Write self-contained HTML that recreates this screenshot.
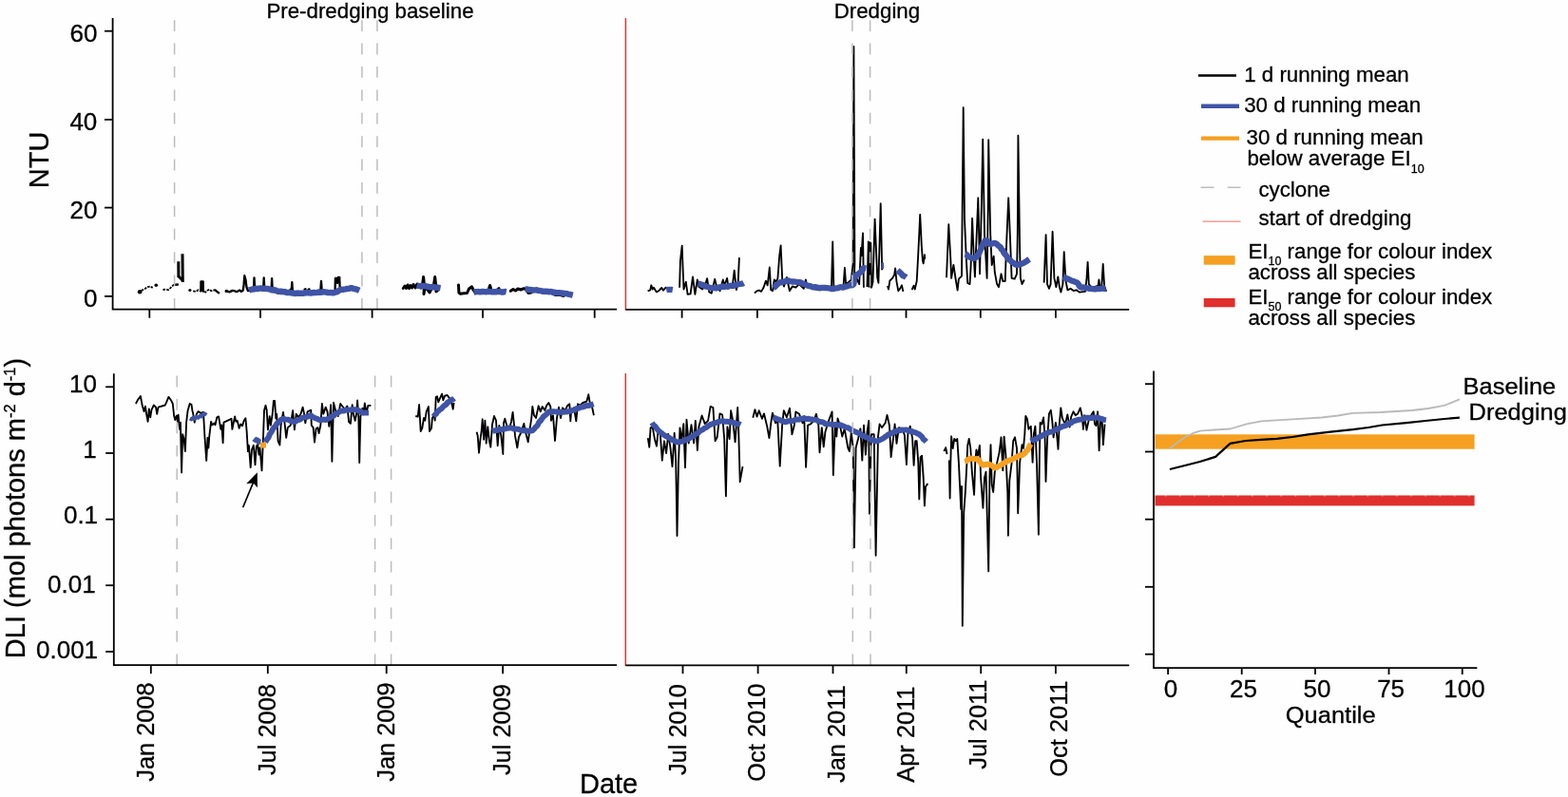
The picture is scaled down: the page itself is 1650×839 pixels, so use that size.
<!DOCTYPE html>
<html lang="en">
<head>
<meta charset="utf-8">
<title>Turbidity and light time series</title>
<style>
html,body{margin:0;padding:0;background:#fefefe;}
body{width:1650px;height:839px;overflow:hidden;}
svg{display:block;}
svg text{font-family:"Liberation Sans",Arial,Helvetica,sans-serif;fill:#000;stroke:#000;stroke-width:0.3px;}
</style>
</head>
<body>
<svg width="1650" height="839" viewBox="0 0 1650 839">
<rect x="0" y="0" width="1650" height="839" fill="#fefefe"/>
<polyline points="183.6,299.8 187.0,299.5" fill="none" stroke="#000" stroke-width="2.3" stroke-linejoin="round" stroke-linecap="round"/>
<polyline points="211.3,306.5 211.5,296.3 213.7,296.3 213.9,306.8" fill="none" stroke="#000" stroke-width="2.3" stroke-linejoin="round" stroke-linecap="round"/>
<polyline points="226.5,305.4 228.2,306.8 230.2,308.4" fill="none" stroke="#000" stroke-width="2.3" stroke-linejoin="round" stroke-linecap="round"/>
<polyline points="238.4,306.4 241.5,307.4 244.5,305.9 247.4,306.4 248.8,307.2 250.8,306.2 252.2,305.5 253.7,306.9 255.8,305.7 256.6,299.4 257.3,290.2 258.5,294.5 259.5,302.3 260.9,306.2 266.9,305.5 267.5,292.3 268.2,304.5 277.1,304.5 277.7,292.5 278.4,305.0 285.5,306.0 286.1,293.1 286.8,306.5 292.0,308.5 296.0,309.0 299.0,307.5" fill="none" stroke="#000" stroke-width="2.3" stroke-linejoin="round" stroke-linecap="round"/>
<polyline points="305.5,305.0 306.8,304.0 307.3,297.2 307.9,306.0" fill="none" stroke="#000" stroke-width="2.3" stroke-linejoin="round" stroke-linecap="round"/>
<polyline points="320.5,304.7 321.5,304.2" fill="none" stroke="#000" stroke-width="2.3" stroke-linejoin="round" stroke-linecap="round"/>
<polyline points="324.5,304.9 325.5,304.4" fill="none" stroke="#000" stroke-width="2.3" stroke-linejoin="round" stroke-linecap="round"/>
<polyline points="337.3,306.0 338.0,296.0 338.7,306.0" fill="none" stroke="#000" stroke-width="2.3" stroke-linejoin="round" stroke-linecap="round"/>
<polyline points="352.6,305.0 352.9,293.0 354.5,292.8 355.0,298.0 356.0,292.0 357.2,291.8 357.6,302.0" fill="none" stroke="#000" stroke-width="2.3" stroke-linejoin="round" stroke-linecap="round"/>
<polyline points="424.3,303.5 426.0,301.0 427.5,303.5 429.0,300.0 430.5,303.5 432.0,300.5 433.5,303.0 435.0,299.5 437.0,303.0 439.0,299.0 441.0,301.5 443.0,303.0 444.8,298.0 445.6,291.6 446.4,300.0 446.0,309.5 447.0,303.0 450.0,305.0 452.0,308.0 454.0,304.0 456.5,300.0 457.7,291.6 458.6,300.0 459.0,307.0 461.0,305.0" fill="none" stroke="#000" stroke-width="3.0" stroke-linejoin="round" stroke-linecap="round"/>
<polyline points="482.5,299.9 482.9,308.0 484.5,309.3 488.0,308.8 491.5,308.5 493.5,304.0 496.5,301.8 498.0,305.0 500.0,308.0" fill="none" stroke="#000" stroke-width="3.0" stroke-linejoin="round" stroke-linecap="round"/>
<polyline points="514.5,304.0 515.6,300.5 516.6,304.0" fill="none" stroke="#000" stroke-width="3.0" stroke-linejoin="round" stroke-linecap="round"/>
<polyline points="524.0,304.5 525.0,303.7" fill="none" stroke="#000" stroke-width="3.0" stroke-linejoin="round" stroke-linecap="round"/>
<polyline points="537.3,306.3 540.0,304.5 542.5,306.0 545.0,304.0 548.0,305.0 551.3,303.7 554.0,305.0 556.0,308.5 559.0,308.0" fill="none" stroke="#000" stroke-width="3.0" stroke-linejoin="round" stroke-linecap="round"/>
<polyline points="582.0,309.5 585.0,310.5 589.0,310.3 593.0,311.5" fill="none" stroke="#000" stroke-width="3.0" stroke-linejoin="round" stroke-linecap="round"/>
<polyline points="187.8,275.3 187.9,292.0" fill="none" stroke="#000" stroke-width="3.0" stroke-linejoin="round" stroke-linecap="butt" />
<polyline points="192.0,267.3 192.3,297.0" fill="none" stroke="#000" stroke-width="3.0" stroke-linejoin="round" stroke-linecap="butt" />
<polyline points="188.0,291.0 192.0,295.0" fill="none" stroke="#000" stroke-width="3.0" stroke-linejoin="round" stroke-linecap="butt" />
<polyline points="212.6,296.5 212.6,306.5" fill="none" stroke="#000" stroke-width="3.0" stroke-linejoin="round" stroke-linecap="butt" />
<polyline points="148.8,305.9 152.2,304.3 155.0,302.2 157.9,301.5 160.7,302.9" fill="none" stroke="#000" stroke-width="1.8" stroke-linejoin="round" stroke-linecap="butt" stroke-dasharray="2.6 1.1"/>
<polyline points="171.5,305.0 174.3,304.7 177.2,305.0 179.3,303.2 182.2,300.4 184.5,299.4" fill="none" stroke="#000" stroke-width="1.8" stroke-linejoin="round" stroke-linecap="butt" stroke-dasharray="2.6 1.1"/>
<polyline points="203.2,306.4 206.2,306.9 208.6,305.2 210.0,306.2" fill="none" stroke="#000" stroke-width="1.8" stroke-linejoin="round" stroke-linecap="butt" stroke-dasharray="2.6 1.1"/>
<polyline points="215.0,307.0 216.3,307.6 218.3,305.7 220.2,304.7 222.2,306.2 224.1,305.5 226.5,305.4" fill="none" stroke="#000" stroke-width="1.8" stroke-linejoin="round" stroke-linecap="butt" stroke-dasharray="2.6 1.1"/>
<circle cx="147.1" cy="307.2" r="2.3" fill="#000"/>
<circle cx="164.3" cy="300.2" r="1.8" fill="#000"/>
<circle cx="199.9" cy="305.5" r="1.6" fill="#000"/>
<circle cx="238.2" cy="306.4" r="1.7" fill="#000"/>
<polyline points="262.0,305.6 263.6,305.0 265.3,304.5 267.0,304.5 268.9,303.8 270.9,304.0 272.8,303.6 274.6,303.4 276.4,303.9 278.2,303.6 280.0,304.0 281.7,304.0 283.4,304.3 285.0,304.9 286.6,305.5 288.4,305.2 290.0,305.6 291.6,306.2 293.2,306.7 294.8,306.6 296.5,306.7 298.0,307.5 299.8,306.9 301.6,308.0 303.6,307.9 305.6,308.1 307.5,308.5 309.2,308.6 311.0,309.1 312.7,308.5 314.5,308.8 316.3,308.8 318.0,308.6 319.8,308.7 321.6,308.2 323.4,308.1 325.2,308.2 327.0,308.5 328.8,308.2 330.4,308.0 332.1,308.1 333.8,307.8 335.4,307.5 337.1,307.8 338.8,307.6 340.4,307.1 342.1,307.5 343.7,307.6 345.4,308.1 347.1,308.1 348.8,307.8 350.4,308.6 351.9,308.0 353.5,307.5 355.1,307.1 356.3,305.8 357.9,305.4 359.7,304.6 361.8,304.7 363.7,304.4 365.6,303.9 367.6,303.8 369.5,302.9 371.1,303.7 372.8,304.0 374.5,304.4 376.4,305.0 378.2,305.8" fill="none" stroke="#3f54a6" stroke-width="6.4" stroke-linejoin="bevel" stroke-linecap="butt"/>
<polyline points="438.6,300.5 440.2,300.9 441.8,301.2 443.5,300.9 445.1,301.2 446.8,300.8 448.4,301.5 450.0,301.6 451.6,302.2 453.3,302.2 455.1,302.0 456.8,302.3 458.4,302.8 460.2,302.4 461.8,303.0 463.5,303.3" fill="none" stroke="#3f54a6" stroke-width="6.4" stroke-linejoin="bevel" stroke-linecap="butt"/>
<polyline points="498.5,307.5 500.1,307.2 501.8,307.1 503.4,307.0 505.1,307.5 506.7,306.9 508.4,307.0 510.0,307.1 511.7,307.4 513.3,306.7 515.0,307.0 516.6,307.1 518.2,307.4 519.9,307.3 521.5,307.4 523.1,306.9 524.7,307.0 526.3,307.0 527.9,307.5 529.6,307.6 531.2,306.9 532.8,307.2" fill="none" stroke="#3f54a6" stroke-width="6.4" stroke-linejoin="bevel" stroke-linecap="butt"/>
<polyline points="552.5,304.6 554.3,304.5 556.0,304.7 557.8,304.9 559.5,305.3 561.2,305.5 563.0,305.4 564.8,305.3 566.5,305.9 568.3,306.0 570.0,306.4 571.6,306.9 573.3,306.8 575.0,306.8 576.7,307.0 578.3,307.2 580.0,306.8 581.6,307.7 583.3,307.8 584.9,308.0 586.6,308.2 588.3,308.1 589.9,308.4 591.5,308.4 593.1,309.2 594.8,308.9 596.4,309.2 598.0,309.6 599.6,309.9 601.2,310.3 602.8,310.7" fill="none" stroke="#3f54a6" stroke-width="6.4" stroke-linejoin="bevel" stroke-linecap="butt"/>
<polyline points="681.6,306.3 684.3,305.3 685.3,300.3 686.7,304.5 687.9,302.7 690.9,307.5 693.8,305.7 696.2,302.9 698.0,305.7 701.0,302.1" fill="none" stroke="#000" stroke-width="1.85" stroke-linejoin="round" stroke-linecap="butt" />
<polyline points="715.1,302.7 715.9,274.7 717.7,258.6 718.3,275.3 719.5,304.5 721.8,296.7 723.6,309.9 726.6,309.3 729.0,291.4 731.4,309.9 733.8,294.4 735.0,301.5 739.1,304.5 741.5,301.5 744.1,293.2 746.3,307.5 748.7,308.7 752.2,293.8 754.0,301.5 757.6,306.3 760.8,294.4 762.4,300.3 765.1,292.9 766.5,302.7 770.7,301.5 772.7,284.6 774.9,305.1 776.7,296.7 777.9,271.1" fill="none" stroke="#000" stroke-width="1.85" stroke-linejoin="round" stroke-linecap="butt" />
<polyline points="794.0,308.7 796.3,306.3 798.7,305.7 801.1,306.9 803.5,302.7 805.9,295.6 807.7,300.3 809.8,281.5 811.2,305.1 813.0,306.3 814.8,294.4 816.6,296.7 818.4,293.2 820.2,269.3 821.6,258.4 823.2,294.4 825.0,301.5 827.9,292.0 830.9,306.3 833.8,301.5 837.4,302.7 841.0,299.1 845.8,303.9 847.9,294.4 849.3,301.5 856.0,304.0 862.0,305.3 868.0,304.5 875.0,301.5 876.2,254.4 877.3,301.5 882.0,303.5 887.5,301.5 888.9,281.8 890.1,299.1 893.4,296.7 895.8,294.4 897.6,277.7 898.4,48.9 899.4,276.5 899.0,290.0 901.0,292.0 904.2,299.1 905.9,261.0 906.5,269.3 908.0,245.5 908.9,302.7" fill="none" stroke="#000" stroke-width="1.85" stroke-linejoin="round" stroke-linecap="butt" />
<polyline points="912.5,302.0 913.8,254.4 915.0,300.0 916.3,256.0 917.0,302.7 918.5,296.7 920.6,230.6 923.2,292.0 924.4,297.9 926.7,214.3 928.2,284.2" fill="none" stroke="#000" stroke-width="1.85" stroke-linejoin="round" stroke-linecap="butt" />
<polyline points="934.0,300.9 935.0,304.5 936.3,295.6 939.3,292.6 941.1,289.6 942.1,282.4 943.5,296.7 945.3,306.3 947.1,303.9 948.9,300.3 950.4,306.9" fill="none" stroke="#000" stroke-width="1.85" stroke-linejoin="round" stroke-linecap="butt" />
<polyline points="959.6,305.0 961.6,300.7 962.7,304.6 964.7,296.0 966.3,266.6 968.2,225.9 969.8,258.9 970.9,274.3 971.7,277.4 972.9,268.2 973.2,272.8" fill="none" stroke="#000" stroke-width="1.85" stroke-linejoin="round" stroke-linecap="butt" />
<polyline points="996.0,292.2 998.3,236.1 1000.3,272.8 1001.1,292.9 1003.4,279.0 1005.5,292.9 1007.6,305.6 1008.9,293.7 1012.0,290.6 1012.7,215.5 1013.7,113.1 1015.0,231.0 1016.9,274.3 1018.2,297.9 1020.5,299.1 1021.6,280.5 1023.1,229.8 1024.7,269.7 1025.9,291.4 1027.4,254.2 1029.3,208.3 1030.5,262.0 1031.0,288.3 1032.9,215.5 1034.2,146.7 1036.0,246.5 1038.6,292.9 1039.8,215.5 1040.2,147.2 1042.2,246.5 1043.7,279.0 1045.7,269.7 1046.8,286.7 1049.1,299.1 1051.0,302.2 1053.5,288.3 1055.3,296.0 1057.7,296.0 1059.2,254.2 1061.2,208.3 1062.8,246.5 1064.6,292.9 1067.7,293.7 1070.0,288.3 1070.8,246.5 1071.4,142.7 1073.1,262.0 1073.9,292.9 1075.5,299.1 1077.8,294.5" fill="none" stroke="#000" stroke-width="1.85" stroke-linejoin="round" stroke-linecap="butt" />
<polyline points="1098.6,297.6 1100.6,247.2 1102.0,299.1 1104.0,303.8 1105.6,299.1 1107.6,243.8 1109.4,292.9 1111.4,302.2 1113.3,291.4 1114.9,302.2 1116.4,307.6 1118.4,299.1 1119.7,265.1 1121.5,296.0 1123.4,305.3 1126.5,303.8 1129.6,306.1 1132.7,305.3 1135.8,307.6 1142.0,306.9 1143.5,292.9 1144.6,275.9 1145.8,299.1 1149.0,303.0 1155.6,300.7 1156.4,294.5 1157.4,302.2 1159.3,300.7 1160.7,277.9 1162.1,300.7 1164.1,306.9" fill="none" stroke="#000" stroke-width="1.85" stroke-linejoin="round" stroke-linecap="butt" />
<polyline points="914.8,254.4 914.8,302.5" fill="none" stroke="#000" stroke-width="3.2" stroke-linejoin="round" stroke-linecap="butt" />
<polyline points="701.2,305.2 702.9,304.8 704.5,304.8 706.1,304.9 707.8,305.2" fill="none" stroke="#3f54a6" stroke-width="6.3" stroke-linejoin="bevel" stroke-linecap="butt"/>
<polyline points="734.4,298.5 736.3,298.8 738.0,299.6 739.9,299.9 741.4,301.2 743.0,301.6 744.6,301.8 746.1,302.5 747.5,303.2 749.1,303.1 750.7,302.8 752.4,303.4 754.1,303.4 755.6,302.7 757.3,302.5 758.9,302.0 760.6,301.7 762.4,301.8 764.1,301.5 766.0,301.8 767.7,301.0 769.5,300.7 771.4,301.3 772.9,300.5 774.4,299.7 776.2,299.7 777.6,298.8 779.4,298.8 781.1,298.7 782.6,297.9" fill="none" stroke="#3f54a6" stroke-width="6.3" stroke-linejoin="bevel" stroke-linecap="butt"/>
<polyline points="813.6,302.9 815.2,302.1 816.5,300.9 817.7,299.5 819.2,298.5 820.6,297.2 822.6,297.3 824.3,296.6 826.2,296.3 827.9,295.4 829.7,295.5 831.4,296.2 833.2,296.5 835.0,296.5 836.8,296.7 838.6,297.0 840.4,297.2 842.3,297.1 844.0,298.2 845.8,299.0 847.7,299.6 849.4,300.5 851.0,301.0 852.7,301.2 854.3,301.9 856.0,302.4 857.9,302.1 859.8,302.7 861.7,303.0 863.6,303.1 865.3,302.8 867.1,302.8 868.8,303.0 870.5,303.1 872.2,303.3 873.9,303.8 875.7,304.3 877.3,303.9 879.0,303.4 880.7,303.3 882.4,303.1 884.0,302.2 885.8,302.5 887.6,302.5 889.3,301.9 891.1,301.5 892.8,300.9 894.6,300.2 896.5,300.4 898.0,299.7 898.6,297.8 898.9,295.9 898.5,294.0 898.6,292.1 898.9,290.6 900.7,289.8 902.3,288.7 903.9,288.2 904.9,286.9 906.4,286.0 907.2,284.6 907.7,282.9 908.8,282.1 911.5,282.5" fill="none" stroke="#3f54a6" stroke-width="6.3" stroke-linejoin="bevel" stroke-linecap="butt"/>
<polyline points="944.5,284.5 946.5,286.3 947.8,287.5 949.0,288.7 950.0,290.2 951.9,290.8 953.6,292.0" fill="none" stroke="#3f54a6" stroke-width="6.3" stroke-linejoin="bevel" stroke-linecap="butt"/>
<polyline points="1015.8,267.4 1017.5,268.1 1018.3,269.8 1020.0,270.6 1022.1,271.3 1024.5,272.4 1025.9,271.2 1027.8,270.7 1028.7,269.4 1029.3,267.7 1030.3,266.5 1031.0,264.8 1031.7,263.1 1032.7,261.5 1033.1,259.6 1033.9,258.0 1034.6,256.3 1036.1,255.1 1036.5,253.4 1037.5,251.9 1038.4,253.3 1039.2,254.8 1040.5,255.9 1041.5,257.7 1043.2,256.8 1045.0,256.3 1046.8,255.8 1048.9,256.8 1050.5,258.5 1051.8,259.5 1053.0,260.5 1053.6,262.2 1055.0,263.2 1055.7,264.7 1056.4,266.2 1057.5,267.5 1058.6,268.7 1059.5,270.2 1060.5,271.5 1061.3,273.0 1063.1,273.8 1064.1,275.3 1065.6,276.3 1067.1,277.2 1068.4,278.4 1070.0,279.0 1072.3,278.4 1074.6,277.9 1076.7,277.1 1078.6,275.9 1080.2,275.0 1081.7,273.8 1083.2,272.8" fill="none" stroke="#3f54a6" stroke-width="6.3" stroke-linejoin="bevel" stroke-linecap="butt"/>
<polyline points="1118.7,291.4 1120.3,292.1 1121.8,292.9 1123.4,293.4 1124.9,294.1 1126.5,294.8 1127.9,295.7 1129.5,296.0 1131.0,296.6 1132.4,297.1 1134.0,298.0 1135.0,299.5 1135.8,301.1 1137.2,302.5 1139.2,302.3 1141.1,302.6 1142.9,303.3 1144.8,303.3 1146.6,303.9 1148.3,303.7 1150.0,304.2 1151.6,304.3 1153.3,304.4 1155.0,303.7 1156.7,304.1 1158.4,303.9 1160.1,303.4 1161.9,303.9 1163.6,303.5" fill="none" stroke="#3f54a6" stroke-width="6.3" stroke-linejoin="bevel" stroke-linecap="butt"/>
<polyline points="928.8,276.5 928.8,283.0" fill="none" stroke="#3f54a6" stroke-width="2.5" stroke-linejoin="round" stroke-linecap="butt" />
<polyline points="142.9,425.0 145.2,420.6 147.9,417.0 149.7,426.8 151.5,433.1 152.9,427.7 154.1,435.8 155.6,443.8 156.8,430.4 158.2,439.3 159.5,431.3 161.8,426.5 164.0,428.6 165.2,435.8 166.6,428.6 173.8,426.5 175.6,422.3 177.4,417.9 180.1,421.5 181.8,425.0 183.1,437.5 184.2,442.0 185.8,437.5 186.8,443.8 187.6,436.6 189.0,451.8 189.9,444.7 191.1,497.4 192.2,457.2 193.5,461.7 194.9,475.1 196.1,444.7 197.6,432.2 199.7,425.0 201.5,425.9 202.4,432.2 203.3,435.8 204.7,444.7 206.9,435.8 208.7,433.1 211.3,434.9 214.0,434.0 215.4,459.0 217.2,484.9 218.5,460.8 219.4,471.5 220.3,459.0 222.1,443.8 223.3,447.4 225.6,445.6 226.5,447.4 228.3,439.3 230.1,438.4 232.3,451.8 233.3,447.4 234.6,466.1 235.5,444.7 243.5,440.8 244.4,451.8 247.1,438.4 248.3,443.8 249.8,442.9 251.6,450.9 253.3,446.5 255.1,448.3 256.6,442.9 258.4,440.2 259.6,453.6 260.9,475.1 261.9,468.8 263.7,492.1 265.0,473.3 266.8,468.8 268.5,489.4 269.8,469.7 271.2,467.9 272.5,478.7 273.5,471.5 275.5,495.4 277.0,460.0 278.0,432.0 279.5,426.8 280.7,432.0 281.9,452.4 283.7,438.1 284.9,447.7 286.7,435.8 287.9,422.0 289.1,422.0 290.3,440.5 291.2,435.8 292.6,464.4 294.4,468.5 295.6,447.7 298.0,434.0 299.8,447.7 301.2,460.8 302.8,450.1 305.8,447.7 308.1,432.2 309.9,452.4 311.7,435.8 314.1,439.3 316.5,435.8 318.6,428.6 320.1,435.8 321.3,445.3 323.6,433.4 327.2,431.6 327.8,447.7 329.6,450.1 331.0,465.6 332.6,451.3 334.4,450.1 335.6,456.0 337.3,447.7 338.9,425.0 340.3,435.8 342.7,428.6 344.5,433.4 346.3,448.9 348.1,426.2 349.4,485.8 351.0,423.8 353.4,433.4 355.8,438.1 358.2,425.0 363.0,431.0 365.4,427.4 367.1,444.1 368.9,445.9 370.7,426.2 371.9,435.8 373.7,442.9 375.1,435.8 376.1,421.5 377.3,438.1 378.2,487.0 379.4,438.1 381.4,429.8 382.6,435.8 383.8,424.4 385.6,434.6 387.4,426.8 390.4,426.8" fill="none" stroke="#000" stroke-width="1.85" stroke-linejoin="round" stroke-linecap="butt" />
<polyline points="437.3,438.0 439.7,438.7 441.1,426.0 442.7,454.0 444.3,450.7 446.0,440.0 447.3,442.7 448.7,433.3 450.9,428.0 452.0,454.0 454.0,450.7 454.9,440.0 456.7,437.3 457.7,442.7 458.7,418.0 460.0,417.3 461.3,423.3 462.7,420.0 465.1,414.7 466.4,421.3 468.0,416.7 470.7,416.0 472.7,418.7 474.7,421.3 476.7,430.7 477.6,424.0" fill="none" stroke="#000" stroke-width="1.85" stroke-linejoin="round" stroke-linecap="butt" />
<polyline points="501.6,454.7 502.7,458.7 504.0,476.7 505.3,464.0 506.7,453.3 507.7,441.3 509.1,462.7 510.4,442.7 511.7,466.7 513.3,449.3 514.9,464.0 516.3,470.7 518.0,446.7 520.0,438.0 522.0,442.7 523.7,469.3 525.3,448.0 527.3,458.7 529.3,478.0 530.0,445.3 531.3,440.7 533.3,448.0 536.0,450.7 538.0,444.0 539.6,434.0 540.7,444.0 542.0,458.7 544.3,471.3 546.0,460.0 548.0,456.0 551.3,446.0 553.3,456.0 555.7,465.3 557.3,453.3 559.3,440.0 560.3,428.0 562.0,437.3 564.0,440.0 566.7,427.3 568.7,433.3 570.7,428.0 573.3,432.0 575.3,426.7 577.3,424.0 579.3,428.0 580.0,442.7 582.0,437.3 584.0,464.0 586.0,440.0 588.0,428.7 590.0,440.0 592.0,429.3 594.7,432.0 597.3,426.7 599.3,425.3 600.3,443.3 601.3,430.7 604.0,429.3 606.3,443.3 608.0,425.3 610.7,426.7 613.3,424.0 617.3,422.7 619.3,415.3 620.7,424.0 622.7,426.7 624.9,437.3" fill="none" stroke="#000" stroke-width="1.85" stroke-linejoin="round" stroke-linecap="butt" />
<polyline points="267.3,461.7 268.8,463.0 270.9,463.4 272.3,465.0 274.2,465.6" fill="none" stroke="#3f54a6" stroke-width="5.9" stroke-linejoin="bevel" stroke-linecap="butt"/>
<polyline points="279.2,465.6 280.1,463.9 281.1,462.2 282.4,460.7 283.1,459.2 283.5,457.5 284.6,456.2 285.5,454.8 286.4,453.1 287.3,451.5 288.4,449.9 290.2,448.3 291.2,446.0 293.0,444.8 294.5,443.2 296.0,441.6 298.0,440.7 300.0,441.4 302.0,441.7 304.1,441.8 305.5,443.1 307.2,443.4 308.8,444.0 310.3,443.8 312.1,443.1 313.7,442.1 315.6,441.9 316.9,440.7 318.4,439.8 320.1,439.2 322.0,439.2 323.7,438.7 325.4,437.7 327.4,437.2 328.4,438.7 330.0,439.2 331.4,440.2 333.7,440.8 335.6,441.9 337.4,442.3 339.1,441.9 340.9,441.5 342.9,442.1 344.9,440.9 347.1,440.0 348.8,438.3 351.2,437.8 352.5,435.9 354.7,435.3 356.3,433.9 358.2,432.7 360.0,432.5 361.9,432.6 363.6,431.7 365.4,431.3 367.3,431.6 369.2,431.4 371.1,431.2 373.0,431.3 375.0,431.2 376.8,432.0 378.6,432.8 380.3,433.6 382.0,434.8 384.0,434.4 386.0,434.6 388.0,434.6" fill="none" stroke="#3f54a6" stroke-width="5.9" stroke-linejoin="bevel" stroke-linecap="butt"/>
<polyline points="456.3,438.7 457.5,436.9 459.0,435.5 460.2,433.7 461.5,432.7 462.6,431.3 464.2,430.6 465.3,429.3 466.5,427.8 468.1,426.6 469.8,425.6 470.5,423.9 472.2,423.3 473.3,421.9 474.9,421.1 476.6,420.5 478.0,419.3" fill="none" stroke="#3f54a6" stroke-width="5.9" stroke-linejoin="bevel" stroke-linecap="butt"/>
<polyline points="518.0,454.0 519.6,453.5 521.2,453.2 522.8,453.0 524.5,452.8 526.0,451.9 527.6,452.1 529.2,451.8 530.9,451.6 532.4,451.2 534.1,450.9 535.6,450.5 537.4,450.4 539.2,450.7 540.8,451.6 542.7,451.5 544.5,451.7 546.3,452.0 548.0,453.0 549.5,453.3 551.2,453.4 552.8,453.3 554.4,453.5 556.0,453.8 558.2,453.7 560.3,453.3 562.0,451.7 563.3,449.9 564.9,448.7 566.0,447.1 566.7,445.3 567.6,443.9 569.1,443.0 569.7,441.4 570.8,440.2 571.7,438.7 573.2,437.6 574.6,436.3 576.0,435.0 577.3,433.4 579.4,433.6 581.4,433.1 583.5,433.3 585.3,433.4 587.1,433.9 589.0,433.8 590.6,434.0 592.5,433.9 594.4,433.5 596.3,433.5 598.1,433.1 600.1,432.9 601.6,432.3 603.2,431.7 604.8,431.3 606.2,430.3 607.7,429.7 609.4,429.7 611.1,428.5 613.2,428.5 615.1,427.9 616.9,426.9 619.0,427.1 620.9,426.6 622.8,425.9 624.7,425.3" fill="none" stroke="#3f54a6" stroke-width="5.9" stroke-linejoin="bevel" stroke-linecap="butt"/>
<polyline points="199.7,440.6 201.5,441.6 203.3,439.4 205.1,441.0 206.9,438.8 208.7,440.0 210.5,437.6 212.3,438.6 214.1,435.6 215.6,436.4 217.0,434.2" fill="none" stroke="#3f54a6" stroke-width="3.6" stroke-linejoin="round" stroke-linecap="butt" />
<polyline points="274.0,468.6 280.0,468.6" fill="none" stroke="#f5a021" stroke-width="6" stroke-linejoin="round" stroke-linecap="butt" />
<line x1="255.6" y1="534.3" x2="266.8" y2="507.2" stroke="#000" stroke-width="1.7" />
<polygon points="270.8,497.2 270.9,513.2 266.6,508.6 259.2,509.2" fill="#000"/>
<polyline points="681.8,461.1 683.3,470.8 684.6,450.4 686.7,449.3 688.9,462.2 691.0,469.7 692.5,453.6 694.7,455.8 696.8,484.7 699.0,464.3 701.1,477.2 703.2,456.8 705.4,470.8 707.5,491.2 709.7,455.8 711.2,485.8 712.5,564.1 714.0,485.8 715.5,450.4 717.2,464.3 719.3,446.1 721.0,492.2 722.5,441.8 724.7,466.5 727.5,447.2 730.1,466.5 731.8,442.9 733.9,474.0 735.4,449.3 738.6,437.5 741.8,446.1 745.1,442.9 747.6,427.9 750.4,429.0 752.6,464.3 754.7,460.1 757.5,435.4 760.1,436.5 762.2,462.2 763.9,522.3 765.4,449.3 767.6,462.2 769.1,432.2 771.2,442.9 773.6,465.4 776.2,429.0 777.2,453.6 778.7,507.2 781.5,491.2" fill="none" stroke="#000" stroke-width="1.85" stroke-linejoin="round" stroke-linecap="butt" />
<polyline points="792.3,439.7 794.4,431.1 796.5,438.6 798.7,432.2 801.9,440.8 804.0,435.4 807.3,449.3 809.4,461.1 811.6,442.9 812.9,434.6 816.0,445.3 818.3,442.9 820.7,490.6 823.1,447.7 824.8,432.2 827.9,439.3 831.0,429.8 833.4,457.2 835.8,447.7 837.4,433.4 841.0,435.8 844.6,445.3 846.2,438.1 848.1,491.8 850.1,447.7 852.9,446.5 856.5,442.9 858.9,435.8 861.3,447.7 862.5,476.3 864.8,450.1 866.7,470.3 868.4,454.8 872.0,442.9 875.6,433.4 876.8,500.1 878.7,447.7 880.3,459.6 881.5,440.5 883.9,447.7 886.3,459.6 888.7,451.3 892.3,471.5 893.9,475.1 895.8,454.8 897.7,471.5 898.9,576.4 900.6,471.5 903.0,462.0 905.4,451.3 907.3,484.6 909.0,447.7 910.9,478.7 912.5,454.8 914.2,442.9 914.9,540.7 916.8,457.2 919.7,457.2 921.6,584.8 924.0,459.6 925.6,446.5 928.0,450.1 931.6,445.3 933.5,437.0 935.9,447.7 937.6,481.1 939.9,462.0 941.6,446.5 943.5,466.8 945.9,450.1 949.5,451.3 951.9,458.1 953.9,489.0 955.4,456.5 957.7,448.7 960.1,461.1 961.6,489.8 963.2,464.2 964.7,464.2 966.3,487.4 967.3,525.4 968.6,481.3 970.1,479.7 971.7,502.9 972.9,532.4 974.0,512.2 976.3,509.1" fill="none" stroke="#000" stroke-width="1.85" stroke-linejoin="round" stroke-linecap="butt" />
<polyline points="993.4,475.1 995.2,471.2 996.5,478.2" fill="none" stroke="#000" stroke-width="1.85" stroke-linejoin="round" stroke-linecap="butt" />
<polyline points="998.8,484.4 999.6,524.6 1000.3,487.4 1001.1,459.3 1002.7,472.0 1004.2,461.9 1005.8,464.2 1007.3,461.9 1008.9,487.4 1010.4,518.4 1011.2,536.0 1012.0,512.0 1012.8,658.8 1014.2,540.0 1015.8,518.4 1017.4,487.4 1018.2,468.9 1019.7,461.9 1021.3,472.0 1022.8,496.7 1025.1,520.8 1026.2,487.4 1027.4,473.5 1029.0,479.7 1030.9,468.9 1032.1,502.9 1034.4,534.7 1036.0,502.9 1037.5,496.7 1038.3,524.6 1040.2,601.4 1041.4,502.9 1042.5,468.1 1043.7,510.0 1045.2,518.0 1046.8,496.7 1049.1,487.4 1051.5,476.6 1053.5,460.3 1055.3,495.2 1056.6,459.6 1058.4,479.7 1060.3,518.4 1060.9,563.7 1062.3,506.0 1064.6,487.4 1066.2,464.2 1068.0,460.3 1070.0,472.0 1070.6,502.9 1071.2,540.3 1073.1,487.4 1075.5,468.1 1077.0,472.0 1078.3,456.5 1079.3,437.9 1080.9,441.0 1082.4,451.8 1084.8,448.7 1086.6,486.7 1087.9,456.5 1089.4,448.7 1091.0,487.4 1092.9,562.7 1093.9,477.4 1094.6,444.9 1096.2,446.5 1098.1,439.5 1099.6,462.0 1100.5,506.9 1102.1,462.0 1103.9,435.6 1105.8,431.8 1107.3,443.4 1108.6,460.4 1110.9,444.9 1112.5,462.0 1113.5,472.8 1114.8,446.5 1116.3,429.4 1117.9,440.3 1119.4,443.4 1121.0,446.5 1123.3,436.4 1125.6,449.6 1127.2,438.7 1129.5,433.3 1131.8,437.2 1134.1,435.6 1136.8,429.4 1138.8,438.7 1139.9,451.9 1141.1,437.2 1143.4,452.7 1145.8,441.8 1148.1,437.2 1150.7,433.3 1152.0,446.5 1153.5,448.0 1155.1,433.3 1156.6,474.3 1158.2,440.3 1159.7,443.4 1160.9,468.2 1162.5,446.5" fill="none" stroke="#000" stroke-width="1.85" stroke-linejoin="round" stroke-linecap="butt" />
<polyline points="686.1,445.0 687.0,446.4 688.0,447.8 689.5,448.7 690.3,450.2 691.4,451.5 692.5,452.9 693.8,454.0 695.0,455.1 696.5,456.1 697.7,457.3 699.3,458.2 700.7,459.2 702.3,459.9 704.2,460.8 705.9,461.9 707.5,463.1 709.4,463.6 711.0,464.9 712.9,465.5 714.8,465.2 716.7,464.9 718.6,464.6 720.2,463.7 721.7,462.6 723.7,462.4 725.5,461.4 727.2,460.2 729.0,459.2 730.8,458.2 732.3,456.6 734.4,456.0 735.5,454.7 736.8,453.6 738.2,452.8 739.8,452.2 740.9,450.9 742.5,450.3 744.0,449.6 745.1,448.3 746.9,447.3 748.7,446.5 750.6,445.9 752.3,445.4 754.1,444.7 755.8,444.1 757.5,443.5 759.2,443.4 761.0,443.3 762.8,443.9 764.7,443.7 766.5,444.1 768.2,443.9 769.8,444.2 771.4,444.7 773.0,445.3 774.5,445.9 776.2,446.4 777.9,446.5 779.4,447.2" fill="none" stroke="#3f54a6" stroke-width="5.9" stroke-linejoin="bevel" stroke-linecap="butt"/>
<polyline points="813.6,439.3 815.2,440.0 816.8,440.6 818.4,441.3 820.1,441.7 821.6,442.9 823.4,442.8 824.9,444.0 826.8,444.5 828.5,443.3 830.4,443.3 832.3,443.3 834.2,443.1 836.0,442.3 837.6,441.8 839.2,441.4 841.0,441.8 842.5,440.8 844.2,440.9 845.8,440.2 847.5,440.7 849.2,441.2 850.9,440.7 852.6,441.5 854.3,441.4 856.0,441.9 857.6,441.9 859.7,442.2 861.4,443.6 863.5,444.0 865.2,444.2 866.7,444.8 868.1,445.9 869.6,446.5 871.3,446.4 873.0,446.4 874.6,446.7 876.3,446.7 878.0,447.3 879.7,446.7 881.3,447.5 883.0,447.7 884.7,447.2 886.1,448.0 888.1,448.7 890.0,449.8 892.1,450.1 893.6,451.0 895.1,451.9 896.4,453.2 898.2,453.7 899.7,454.2 901.1,455.0 902.7,455.6 904.2,456.1 905.7,456.9 907.1,458.4 909.1,458.8 910.6,460.2 912.6,460.6 914.3,461.4 915.8,462.4 917.6,462.9 919.8,463.7 922.2,464.8 923.9,464.1 925.5,463.4 927.1,462.6 928.7,461.8 930.3,460.9 931.6,459.6 933.3,458.8 934.7,457.3 936.6,456.9 938.0,455.9 939.7,455.4 941.1,454.5 943.0,453.7 944.9,453.1 947.0,453.4 949.0,452.5 951.1,452.6 953.1,452.4 954.7,452.7 956.1,453.5 957.6,454.1 959.4,453.9 961.4,454.9 963.6,455.3 965.2,456.4 967.1,457.1 968.4,458.2 969.6,459.3 970.7,460.5 971.4,462.2 973.3,463.4 974.8,465.0" fill="none" stroke="#3f54a6" stroke-width="5.9" stroke-linejoin="bevel" stroke-linecap="butt"/>
<polyline points="1084.8,464.2 1086.4,463.2 1088.4,463.1 1090.2,462.4 1091.8,461.2 1093.6,460.1 1095.5,459.4 1097.3,458.1 1099.2,457.2 1100.7,456.3 1102.3,455.8 1103.8,455.1 1105.5,454.7 1107.2,454.3 1108.6,453.6 1110.1,452.6 1111.6,452.0 1113.2,451.4 1114.7,450.6 1116.3,449.9 1117.7,449.0 1119.4,448.5 1121.2,448.4 1122.4,446.9 1124.1,446.5 1125.7,445.8 1127.3,445.2 1128.6,443.9 1130.2,443.2 1132.0,442.6 1133.7,442.2 1135.5,441.7 1137.5,441.6 1139.3,441.1 1141.1,440.6 1142.9,439.7 1144.7,439.6 1146.6,440.1 1148.4,440.1 1150.2,439.6 1152.0,439.6 1154.1,439.3 1156.1,439.9 1158.1,440.7 1160.0,441.2 1162.0,441.8 1164.0,442.1" fill="none" stroke="#3f54a6" stroke-width="5.9" stroke-linejoin="bevel" stroke-linecap="butt"/>
<polyline points="1015.1,485.9 1016.8,485.5 1018.1,484.1 1019.6,483.3 1021.3,482.5 1023.2,482.8 1025.2,483.0 1027.1,483.2 1028.8,482.9 1029.8,484.3 1030.6,485.7 1031.8,487.0 1032.6,488.4 1033.5,489.4 1035.2,489.6 1036.6,488.8 1038.3,489.0 1039.7,488.3 1041.5,489.0 1043.1,489.8 1044.6,490.8 1046.0,492.1 1047.7,493.1 1049.0,491.7 1050.5,490.7 1052.2,490.1 1053.8,489.2 1055.3,488.1 1056.6,487.2 1058.2,486.8 1059.4,485.6 1060.9,485.0 1062.7,484.4 1064.5,484.0 1066.1,482.9 1067.8,482.3 1069.5,481.2 1071.1,480.2 1072.9,479.5 1075.0,479.3 1076.8,478.3 1078.5,477.3 1079.4,475.5 1080.9,474.1 1082.1,472.6 1082.9,470.7 1083.7,468.9 1084.8,467.3" fill="none" stroke="#f5a021" stroke-width="5.9" stroke-linejoin="bevel" stroke-linecap="butt"/>
<line x1="183.6" y1="21.2" x2="183.6" y2="325.5" stroke="#bdbdbd" stroke-width="1.5" stroke-dasharray="11.8 12.6"/>
<line x1="380.9" y1="21.2" x2="380.9" y2="325.5" stroke="#bdbdbd" stroke-width="1.5" stroke-dasharray="11.8 12.6"/>
<line x1="396.9" y1="21.2" x2="396.9" y2="325.5" stroke="#bdbdbd" stroke-width="1.5" stroke-dasharray="11.8 12.6"/>
<line x1="896.9" y1="21.2" x2="896.9" y2="325.5" stroke="#bdbdbd" stroke-width="1.5" stroke-dasharray="11.8 12.6"/>
<line x1="915.6" y1="21.2" x2="915.6" y2="325.5" stroke="#bdbdbd" stroke-width="1.5" stroke-dasharray="11.8 12.6"/>
<line x1="186.2" y1="395.6" x2="186.2" y2="700" stroke="#bdbdbd" stroke-width="1.5" stroke-dasharray="11.8 12.6"/>
<line x1="394.6" y1="395.6" x2="394.6" y2="700" stroke="#bdbdbd" stroke-width="1.5" stroke-dasharray="11.8 12.6"/>
<line x1="411.6" y1="395.6" x2="411.6" y2="700" stroke="#bdbdbd" stroke-width="1.5" stroke-dasharray="11.8 12.6"/>
<line x1="897.3" y1="395.6" x2="897.3" y2="700" stroke="#bdbdbd" stroke-width="1.5" stroke-dasharray="11.8 12.6"/>
<line x1="916.0" y1="395.6" x2="916.0" y2="700" stroke="#bdbdbd" stroke-width="1.5" stroke-dasharray="11.8 12.6"/>
<line x1="658.4" y1="19" x2="658.4" y2="326.4" stroke="#dc3b33" stroke-width="1.5" />
<line x1="658.3" y1="393" x2="658.3" y2="701" stroke="#dc3b33" stroke-width="1.5" />
<polyline points="118.6,19 118.6,325.7 649.1,325.7" fill="none" stroke="#000" stroke-width="1.8"/>
<line x1="110" y1="32.7" x2="118.6" y2="32.7" stroke="#000" stroke-width="1.8" />
<line x1="110" y1="125.9" x2="118.6" y2="125.9" stroke="#000" stroke-width="1.8" />
<line x1="110" y1="218.6" x2="118.6" y2="218.6" stroke="#000" stroke-width="1.8" />
<line x1="110" y1="311.9" x2="118.6" y2="311.9" stroke="#000" stroke-width="1.8" />
<line x1="157.3" y1="325.7" x2="157.3" y2="334.7" stroke="#000" stroke-width="1.8" />
<line x1="274.0" y1="325.7" x2="274.0" y2="334.7" stroke="#000" stroke-width="1.8" />
<line x1="391.6" y1="325.7" x2="391.6" y2="334.7" stroke="#000" stroke-width="1.8" />
<line x1="508.0" y1="325.7" x2="508.0" y2="334.7" stroke="#000" stroke-width="1.8" />
<line x1="625.7" y1="325.7" x2="625.7" y2="334.7" stroke="#000" stroke-width="1.8" />
<line x1="658.4" y1="325.9" x2="1188.2" y2="325.9" stroke="#000" stroke-width="1.8" />
<line x1="717.6" y1="325.9" x2="717.6" y2="334.7" stroke="#000" stroke-width="1.8" />
<line x1="796.9" y1="325.9" x2="796.9" y2="334.7" stroke="#000" stroke-width="1.8" />
<line x1="876.0" y1="325.9" x2="876.0" y2="334.7" stroke="#000" stroke-width="1.8" />
<line x1="953.5" y1="325.9" x2="953.5" y2="334.7" stroke="#000" stroke-width="1.8" />
<line x1="1031.8" y1="325.9" x2="1031.8" y2="334.7" stroke="#000" stroke-width="1.8" />
<line x1="1110.9" y1="325.9" x2="1110.9" y2="334.7" stroke="#000" stroke-width="1.8" />
<polyline points="119.8,393.3 119.8,700.2 649.1,700.2" fill="none" stroke="#000" stroke-width="1.8"/>
<line x1="111.2" y1="407.3" x2="119.8" y2="407.3" stroke="#000" stroke-width="1.8" />
<line x1="111.2" y1="477.0" x2="119.8" y2="477.0" stroke="#000" stroke-width="1.8" />
<line x1="111.2" y1="546.7" x2="119.8" y2="546.7" stroke="#000" stroke-width="1.8" />
<line x1="111.2" y1="616.2" x2="119.8" y2="616.2" stroke="#000" stroke-width="1.8" />
<line x1="111.2" y1="686.0" x2="119.8" y2="686.0" stroke="#000" stroke-width="1.8" />
<line x1="158.8" y1="700.2" x2="158.8" y2="709.2" stroke="#000" stroke-width="1.8" />
<line x1="281.8" y1="700.2" x2="281.8" y2="709.2" stroke="#000" stroke-width="1.8" />
<line x1="406.7" y1="700.2" x2="406.7" y2="709.2" stroke="#000" stroke-width="1.8" />
<line x1="529.1" y1="700.2" x2="529.1" y2="709.2" stroke="#000" stroke-width="1.8" />
<line x1="658.3" y1="700.3" x2="1188.2" y2="700.3" stroke="#000" stroke-width="1.8" />
<line x1="718.5" y1="700.3" x2="718.5" y2="709.2" stroke="#000" stroke-width="1.8" />
<line x1="797.6" y1="700.3" x2="797.6" y2="709.2" stroke="#000" stroke-width="1.8" />
<line x1="876.5" y1="700.3" x2="876.5" y2="709.2" stroke="#000" stroke-width="1.8" />
<line x1="953.8" y1="700.3" x2="953.8" y2="709.2" stroke="#000" stroke-width="1.8" />
<line x1="1032.2" y1="700.3" x2="1032.2" y2="709.2" stroke="#000" stroke-width="1.8" />
<line x1="1110.9" y1="700.3" x2="1110.9" y2="709.2" stroke="#000" stroke-width="1.8" />
<rect x="1215.5" y="457.3" width="336.1" height="15.4" fill="#f5a021"/>
<rect x="1215.5" y="521.5" width="336.1" height="10.9" fill="#e02f2c"/>
<line x1="1225.8" y1="521.9" x2="1551" y2="521.9" stroke="#f7d9d6" stroke-width="0.9" stroke-dasharray="1.6 13.6"/>
<polyline points="1230.9,472.2 1238.5,466.3 1247.3,460.0 1255.0,456.2 1262.7,453.6 1278.0,452.5 1294.5,451.5 1311.8,446.4 1327.3,443.3 1360.0,441.3 1391.0,439.5 1408.0,437.5 1423.4,434.9 1452.7,434.0 1485.8,432.0 1503.0,430.0 1519.8,426.9 1535.9,420.4" fill="none" stroke="#b9b9b9" stroke-width="1.8" stroke-linejoin="round" stroke-linecap="butt" />
<polyline points="1230.9,494.0 1247.0,490.0 1262.7,486.0 1279.1,480.9 1294.5,466.9 1310.9,464.0 1327.0,462.8 1343.6,461.8 1360.0,460.0 1376.4,457.3 1400.0,454.7 1423.6,452.2 1440.0,450.0 1454.5,447.5 1480.0,445.1 1500.0,443.0 1519.8,441.0 1535.9,439.7" fill="none" stroke="#000" stroke-width="2.2" stroke-linejoin="round" stroke-linecap="butt" />
<polyline points="1214,390.4 1214,703.1 1554.4,703.1" fill="none" stroke="#000" stroke-width="1.8"/>
<line x1="1205" y1="404.2" x2="1214" y2="404.2" stroke="#000" stroke-width="1.8" />
<line x1="1205" y1="475.5" x2="1214" y2="475.5" stroke="#000" stroke-width="1.8" />
<line x1="1205" y1="546.7" x2="1214" y2="546.7" stroke="#000" stroke-width="1.8" />
<line x1="1205" y1="617.8" x2="1214" y2="617.8" stroke="#000" stroke-width="1.8" />
<line x1="1205" y1="688.7" x2="1214" y2="688.7" stroke="#000" stroke-width="1.8" />
<line x1="1229.1" y1="703.1" x2="1229.1" y2="710" stroke="#000" stroke-width="1.8" />
<line x1="1306.7" y1="703.1" x2="1306.7" y2="710" stroke="#000" stroke-width="1.8" />
<line x1="1384.0" y1="703.1" x2="1384.0" y2="710" stroke="#000" stroke-width="1.8" />
<line x1="1461.5" y1="703.1" x2="1461.5" y2="710" stroke="#000" stroke-width="1.8" />
<line x1="1538.8" y1="703.1" x2="1538.8" y2="710" stroke="#000" stroke-width="1.8" />
<text x="1232.0" y="734.2" font-size="26" text-anchor="middle" >0</text>
<text x="1308.4" y="734.2" font-size="26" text-anchor="middle" >25</text>
<text x="1385.9" y="734.2" font-size="26" text-anchor="middle" >50</text>
<text x="1463.6" y="734.2" font-size="26" text-anchor="middle" >75</text>
<text x="1541.0" y="734.2" font-size="26" text-anchor="middle" >100</text>
<text x="0" y="0" font-size="23.7" text-anchor="middle" transform="translate(1400.2 760.8) scale(1.075 1.0)" >Quantile</text>
<text x="0" y="0" font-size="23.7" text-anchor="middle" transform="translate(1588.4 414.7) scale(1.075 1.0)" >Baseline</text>
<text x="0" y="0" font-size="23.7" text-anchor="middle" transform="translate(1597.2 441.9) scale(1.075 1.0)" >Dredging</text>
<text x="102.4" y="44.3" font-size="26" text-anchor="end" >60</text>
<text x="102.3" y="136.6" font-size="26" text-anchor="end" >40</text>
<text x="102.4" y="230.2" font-size="26" text-anchor="end" >20</text>
<text x="102.4" y="322.6" font-size="26" text-anchor="end" >0</text>
<text x="101.9" y="413.1" font-size="26" text-anchor="end" >10</text>
<text x="101.7" y="482.1" font-size="26" text-anchor="end" >1</text>
<text x="103.1" y="551.2" font-size="26" text-anchor="end" >0.1</text>
<text x="100.6" y="623.8" font-size="26" text-anchor="end" >0.01</text>
<text x="103.1" y="692.9" font-size="26" text-anchor="end" >0.001</text>
<text x="389.5" y="18.8" font-size="22.3" text-anchor="middle" >Pre-dredging baseline</text>
<text x="922.9" y="18.8" font-size="22.3" text-anchor="middle" >Dredging</text>
<text x="0" y="0" font-size="29" text-anchor="middle" transform="translate(51.3 168.4) rotate(-90)" >NTU</text>
<text x="25.5" y="535" font-size="29" text-anchor="middle" transform="rotate(-90 25.5 535)">DLI (mol photons m<tspan font-size="16.5" dy="-9.5">-2</tspan><tspan dy="9.5"> d</tspan><tspan font-size="16.5" dy="-9.5">-1</tspan><tspan dy="9.5">)</tspan></text>
<text x="640.6" y="835" font-size="29" text-anchor="middle" >Date</text>
<text x="0" y="0" font-size="25.4" text-anchor="end" transform="translate(161.89999999999998 718.3) scale(1.04 1.0) rotate(-90)" >Jan 2008</text>
<text x="0" y="0" font-size="25.4" text-anchor="end" transform="translate(290.09999999999997 720.0999999999999) scale(1.04 1.0) rotate(-90)" >Jul 2008</text>
<text x="0" y="0" font-size="25.4" text-anchor="end" transform="translate(415.0 718.3) scale(1.04 1.0) rotate(-90)" >Jan 2009</text>
<text x="0" y="0" font-size="25.4" text-anchor="end" transform="translate(537.4000000000001 720.0999999999999) scale(1.04 1.0) rotate(-90)" >Jul 2009</text>
<text x="0" y="0" font-size="25.4" text-anchor="end" transform="translate(721.9000000000001 720.0999999999999) scale(1.04 1.0) rotate(-90)" >Jul 2010</text>
<text x="0" y="0" font-size="25.4" text-anchor="end" transform="translate(804.7 719.5999999999999) scale(1.04 1.0) rotate(-90)" >Oct 2010</text>
<text x="0" y="0" font-size="25.4" text-anchor="end" transform="translate(889.2 721.4) scale(1.04 1.0) rotate(-90)" >Jan 2011</text>
<text x="0" y="0" font-size="25.4" text-anchor="end" transform="translate(961.6 722.5) scale(1.04 1.0) rotate(-90)" >Apr 2011</text>
<text x="0" y="0" font-size="25.4" text-anchor="end" transform="translate(1037.7 715.5999999999999) scale(1.04 1.0) rotate(-90)" >Jul 2011</text>
<text x="0" y="0" font-size="25.4" text-anchor="end" transform="translate(1123.4 716.5) scale(1.04 1.0) rotate(-90)" >Oct 2011</text>
<line x1="1260.9" y1="79.5" x2="1300.9" y2="79.5" stroke="#000" stroke-width="2.5" />
<text x="1309.2" y="86" font-size="22.3" text-anchor="start" >1 d running mean</text>
<line x1="1264" y1="111.7" x2="1304" y2="111.7" stroke="#3f54a6" stroke-width="4.4" />
<text x="1309.2" y="117.6" font-size="22.3" text-anchor="start" >30 d running mean</text>
<line x1="1264" y1="145.6" x2="1304" y2="145.6" stroke="#f5a021" stroke-width="4.2" />
<text x="1311.6" y="151.5" font-size="22.3" text-anchor="start" >30 d running mean</text>
<text x="1312.4" y="174.2" font-size="22.3">below average EI<tspan font-size="12.5" dy="7.3">10</tspan></text>
<line x1="1263.6" y1="197.3" x2="1277.3" y2="197.3" stroke="#bdbdbd" stroke-width="1.5" />
<line x1="1291.8" y1="197.3" x2="1305.5" y2="197.3" stroke="#bdbdbd" stroke-width="1.5" />
<text x="1324.4" y="206.9" font-size="22.3" text-anchor="start" >cyclone</text>
<line x1="1265.5" y1="233.1" x2="1305.5" y2="233.1" stroke="#ee8a80" stroke-width="1.1" />
<text x="1324.4" y="236.7" font-size="22.3" text-anchor="start" >start of dredging</text>
<rect x="1266.7" y="269.1" width="32.9" height="9.6" fill="#f5a021"/>
<text x="1313.4" y="271.6" font-size="22.3">EI<tspan font-size="12.5" dy="7.5">10</tspan><tspan dy="-7.5"> range for colour index</tspan></text>
<text x="1313.4" y="293.8" font-size="22.3" text-anchor="start" >across all species</text>
<rect x="1266.7" y="314" width="32.9" height="9.3" fill="#e02f2c"/>
<text x="1313.4" y="319.8" font-size="22.3">EI<tspan font-size="12.5" dy="7.5">50</tspan><tspan dy="-7.5"> range for colour index</tspan></text>
<text x="1313.4" y="341.5" font-size="22.3" text-anchor="start" >across all species</text>
</svg>
</body>
</html>
